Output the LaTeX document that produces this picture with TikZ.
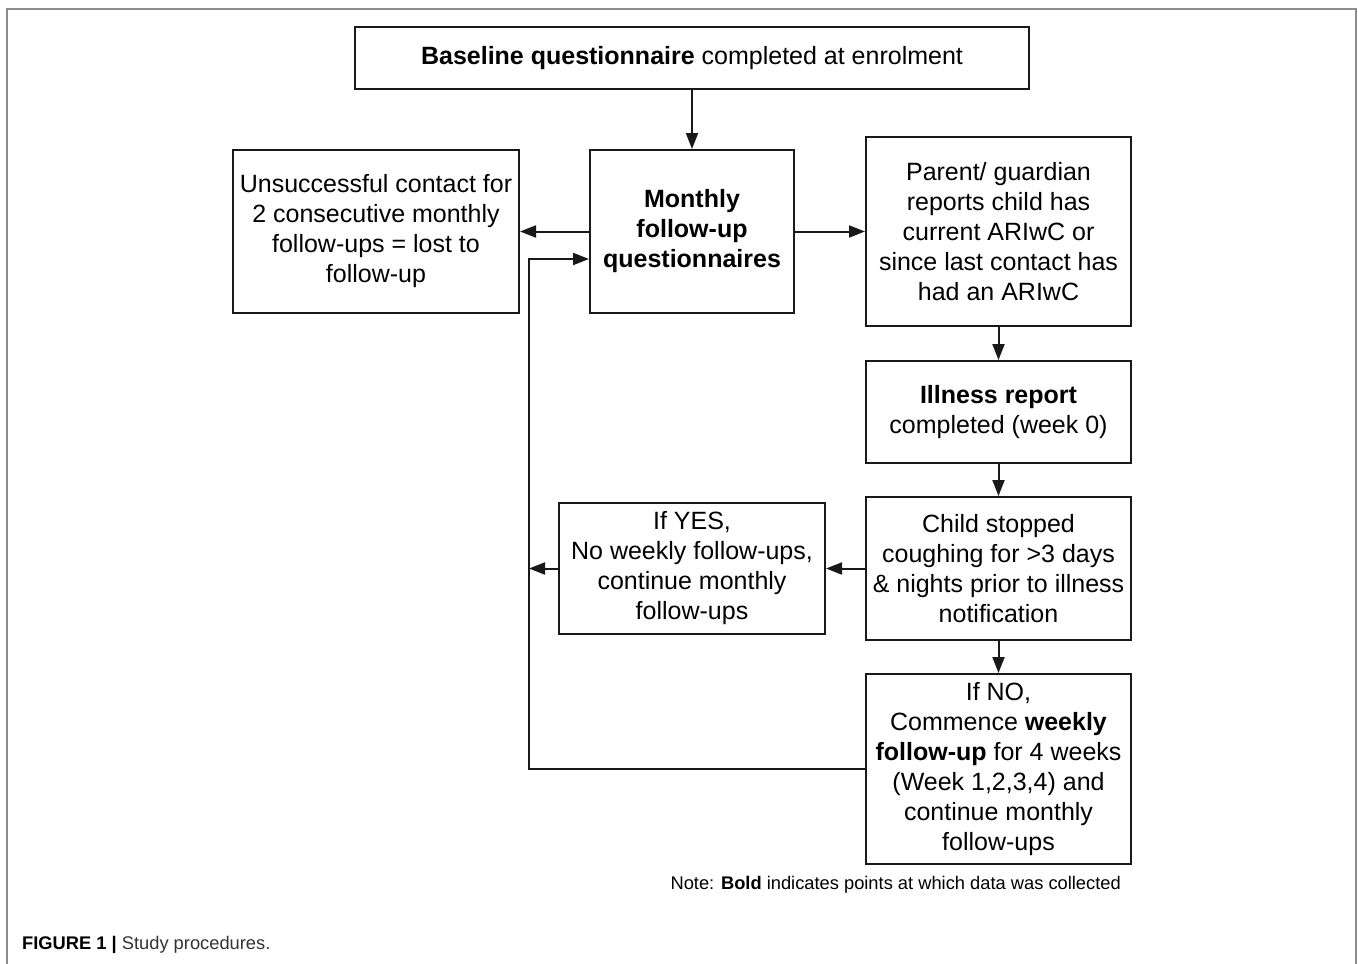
\documentclass[tikz,border=0pt]{standalone}
\usepackage{fontspec}
\setmainfont{Liberation Sans}
\usetikzlibrary{arrows.meta}
\begin{document}
\begin{tikzpicture}[x=1pt,y=-1pt,
  box/.style={draw=black!90, line width=2pt, align=center, inner sep=0pt,
    font=\fontsize{25}{30}\selectfont},
  arr/.style={line width=2pt, draw=black!90, -{Triangle[length=16pt,width=12pt]}},
  conn/.style={line width=2pt, draw=black!90}]
\useasboundingbox (0,0) rectangle (1358,964);
\draw[line width=2pt, draw=black!45] (7,964) -- (7,9) -- (1356,9) -- (1356,964);

\node[box, minimum width=674pt, minimum height=62pt] (base) at (692,58)
  {\textbf{Baseline questionnaire} completed at enrolment};
\node[box, minimum width=204pt, minimum height=163pt] (mon) at (692,231.5)
  {\textbf{Monthly}\\\textbf{follow-up}\\\textbf{questionnaires}};
\node[box, minimum width=286pt, minimum height=163pt] (uns) at (376,231.5)
  {Unsuccessful contact for\\2 consecutive monthly\\follow-ups = lost to\\follow-up};
\node[box, minimum width=265pt, minimum height=189pt] (par) at (998.5,231.5)
  {Parent/ guardian\\reports child has\\current ARIwC or\\since last contact has\\had an ARIwC};
\node[box, minimum width=265pt, minimum height=102pt] (ill) at (998.5,412)
  {\textbf{Illness report}\\completed (week 0)};
\node[box, minimum width=265pt, minimum height=143pt] (chi) at (998.5,568.5)
  {Child stopped\\coughing for >3 days\\\& nights prior to illness\\notification};
\node[box, minimum width=266pt, minimum height=131pt] (yes) at (692,568.5)
  {If YES,\\No weekly follow-ups,\\continue monthly\\follow-ups};
\node[box, minimum width=265pt, minimum height=190pt] (no) at (998.5,769)
  {If NO,\\Commence \textbf{weekly}\\\textbf{follow-up} for 4 weeks\\(Week 1,2,3,4) and\\continue monthly\\follow-ups};

\node[anchor=east, inner sep=0pt, font=\fontsize{18.3}{22}\selectfont] (note) at (1121,885)
  {Note: \textbf{Bold} indicates points at which data was collected};
\node[anchor=west, inner sep=0pt, font=\fontsize{18.3}{22}\selectfont] (cap) at (22,945)
  {\textbf{FIGURE 1 |} \textcolor{black!80}{Study procedures.}};

\coordinate (lx) at (529,259);
\draw[arr] (base.south) -- (mon.north);
\draw[arr] (mon.west) -- (uns.east);
\draw[arr] (mon.east) -- (par.west);
\draw[arr] (par.south) -- (ill.north);
\draw[arr] (ill.south) -- (chi.north);
\draw[arr] (chi.west) -- (yes.east);
\draw[arr] (chi.south) -- (no.north);
\draw[arr] (yes.west) -- (yes.west -| lx);
\draw[conn] (no.west) -| (lx);
\draw[arr] ([xshift=-1pt]lx) -- (lx -| mon.west);
\end{tikzpicture}
\end{document}
